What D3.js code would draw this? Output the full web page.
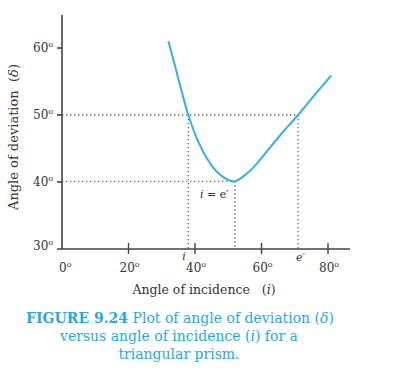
<!DOCTYPE html>
<html lang="en">
	<head>
		<meta charset="utf-8">
		<title>Deviation vs incidence</title>
		<script src="https://cdn.jsdelivr.net/npm/d3@7"></script>
		<style>
			body { margin: 0; background: #fff; }
			text { font-family: "DejaVu Serif", "Liberation Serif", serif; fill: #333; }
			.cap { fill: #2aa7df; }
		</style>
	</head>
	<body>
		<script>

		/*//////////////////////
		//  Data             //
		//////////////////////*/

		// angle of incidence (deg) and deviation (deg)
		var incidence = [32, 34, 36, 38, 41, 44, 47, 50, 52, 55, 58, 61, 66, 71, 76, 81];
		var deviation = [61, 57.3, 53.5, 50, 46, 43.2, 41.3, 40.3, 40.1, 41.0, 42.4, 44.2, 47.2, 50, 53, 55.9];

		var xTicks = [0, 20, 40, 60, 80];
		var yTicks = [30, 40, 50, 60];

		// marked points: i and e' at 50 deg, minimum at i = e'
		var iMark = 38;
		var eMark = 71;
		var minI = 52;
		var minD = 40.1;

		/*//////////////////////
		//  SVG Canvas Setup  //
		//////////////////////*/

		var w = 412;
		var h = 370;

		var svg = d3.select("body")
			.append("svg")
			.attr("width", w)
			.attr("height", h);

		var x = d3.scaleLinear().domain([0, 80]).range([62, 328]);
		var y = d3.scaleLinear().domain([30, 60]).range([249, 48]);

		// Dotted guide lines
		var guides = [
			[[0, 50], [eMark, 50]],
			[[iMark, 50], [iMark, 30]],
			[[eMark, 50], [eMark, 30]],
			[[0, minD], [minI, minD]],
			[[minI, minD], [minI, 30]]
		];
		svg.selectAll("line.guide")
			.data(guides)
			.enter()
			.append("line")
			.attr("class", "guide")
			.attr("x1", function(d) { return x(d[0][0]); })
			.attr("y1", function(d) { return y(d[0][1]); })
			.attr("x2", function(d) { return x(d[1][0]); })
			.attr("y2", function(d) { return y(d[1][1]); })
			.attr("stroke", "#666")
			.attr("stroke-width", 1.3)
			.attr("stroke-dasharray", "1.3,2.7");

		// Axes
		svg.append("line")
			.attr("x1", x(0)).attr("y1", 15)
			.attr("x2", x(0)).attr("y2", y(30))
			.attr("stroke", "#444").attr("stroke-width", 1.6);
		svg.append("line")
			.attr("x1", x(0) - 5).attr("y1", y(30))
			.attr("x2", 350).attr("y2", y(30))
			.attr("stroke", "#444").attr("stroke-width", 1.6);

		// x ticks cross the axis
		svg.selectAll("line.xt")
			.data(xTicks.slice(1))
			.enter()
			.append("line")
			.attr("class", "xt")
			.attr("x1", function(d) { return x(d); })
			.attr("x2", function(d) { return x(d); })
			.attr("y1", y(30) - 6)
			.attr("y2", y(30) + 5)
			.attr("stroke", "#444").attr("stroke-width", 1.4);

		svg.selectAll("line.yt")
			.data(yTicks.slice(1))
			.enter()
			.append("line")
			.attr("class", "yt")
			.attr("x1", x(0) - 5)
			.attr("x2", x(0))
			.attr("y1", function(d) { return y(d); })
			.attr("y2", function(d) { return y(d); })
			.attr("stroke", "#444").attr("stroke-width", 1.6);

		function degLabel(sel) {
			sel.text(function(d) { return d; })
				.append("tspan")
				.attr("dy", -5)
				.attr("font-size", 8)
				.text("o");
		}

		svg.selectAll("text.xl")
			.data(xTicks)
			.enter()
			.append("text")
			.attr("class", "xl")
			.attr("x", function(d) { return x(d) + (d === 0 ? -3 : -9); })
			.attr("y", 272)
			.attr("font-size", 12)
			.call(degLabel);

		svg.selectAll("text.yl")
			.data(yTicks)
			.enter()
			.append("text")
			.attr("class", "yl")
			.attr("x", 33)
			.attr("y", function(d) { return y(d) + (d === 30 ? 1 : 4); })
			.attr("font-size", 12)
			.call(degLabel);

		// Curve
		var pts = d3.zip(incidence, deviation);
		var line = d3.line()
			.x(function(d) { return x(d[0]); })
			.y(function(d) { return y(d[1]); })
			.curve(d3.curveCatmullRom);
		svg.append("path")
			.datum(pts)
			.attr("d", line)
			.attr("fill", "none")
			.attr("stroke", "#33b1e4")
			.attr("stroke-width", 2);

		// Point labels
		svg.append("text")
			.attr("x", x(minI) - 35).attr("y", y(minD) + 17)
			.attr("font-size", 11)
			.html('<tspan font-style="italic">i</tspan> = e′');
		svg.append("text")
			.attr("x", x(iMark) - 6).attr("y", 260)
			.attr("font-size", 11).attr("font-style", "italic")
			.text("i");
		svg.append("text")
			.attr("x", x(eMark) - 2).attr("y", 261)
			.attr("font-size", 11).attr("font-style", "italic")
			.text("e′");

		// Axis titles
		svg.append("text")
			.attr("x", 204).attr("y", 294)
			.attr("text-anchor", "middle")
			.attr("font-size", 12.5)
			.html('Angle of incidence &#160;&#160;(<tspan font-style="italic">i</tspan>)');
		svg.append("text")
			.attr("transform", "translate(18,137) rotate(-90)")
			.attr("text-anchor", "middle")
			.attr("font-size", 13)
			.html('Angle of deviation &#160;(<tspan font-style="italic">δ</tspan>)');

		// Caption
		var caption = svg.append("g").attr("font-size", 14);
		caption.append("text")
			.attr("class", "cap")
			.attr("x", 180).attr("y", 323)
			.attr("text-anchor", "middle")
			.html('<tspan font-weight="bold">FIGURE 9.24</tspan> Plot of angle of deviation (<tspan font-style="italic">δ</tspan>)');
		caption.append("text")
			.attr("class", "cap")
			.attr("x", 179).attr("y", 341)
			.attr("text-anchor", "middle")
			.html('versus angle of incidence (<tspan font-style="italic">i</tspan>) for a');
		caption.append("text")
			.attr("class", "cap")
			.attr("x", 179).attr("y", 359)
			.attr("text-anchor", "middle")
			.text("triangular prism.");
		</script>
	</body>
</html>
